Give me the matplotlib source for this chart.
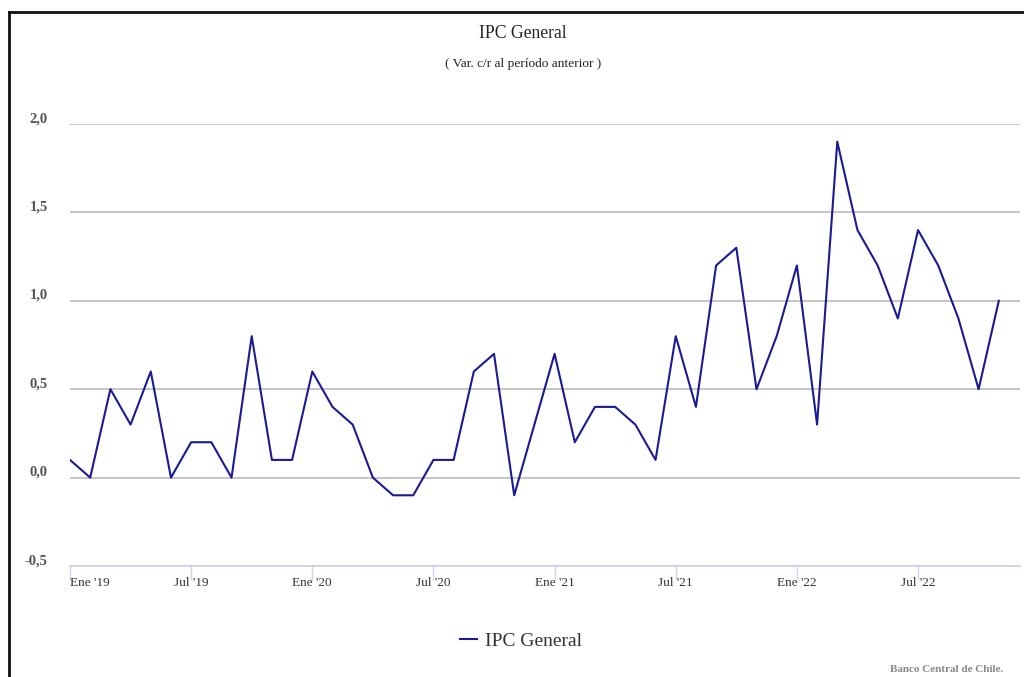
import matplotlib.pyplot as plt
import matplotlib.transforms as mtransforms
import numpy as np

# datos: IPC general, var. mensual (%), ene 2019 - nov 2022
ipc = [0.1, 0.0, 0.5, 0.3, 0.6, 0.0, 0.2, 0.2, 0.0, 0.8, 0.1, 0.1,
       0.6, 0.4, 0.3, 0.0, -0.1, -0.1, 0.1, 0.1, 0.6, 0.7, -0.1, 0.3,
       0.7, 0.2, 0.4, 0.4, 0.3, 0.1, 0.8, 0.4, 1.2, 1.3, 0.5, 0.8,
       1.2, 0.3, 1.9, 1.4, 1.2, 0.9, 1.4, 1.2, 0.9, 0.5, 1.0]
tick_months = [0, 6, 12, 18, 24, 30, 36, 42]
tick_labels = ["Ene '19", "Jul '19", "Ene '20", "Jul '20",
               "Ene '21", "Jul '21", "Ene '22", "Jul '22"]
y_ticks = [-0.5, 0.0, 0.5, 1.0, 1.5, 2.0]
y_labels = ["-0,5", "0,0", "0,5", "1,0", "1,5", "2,0"]

plt.rcParams['font.family'] = ['Liberation Serif', 'DejaVu Serif']

W, H = 1024, 677
fig = plt.figure(figsize=(W / 100, H / 100), dpi=100)
ax = fig.add_axes([70 / W, 1 - 566 / H, 950 / W, (566 - 124) / H])

x = np.arange(len(ipc))
ax.plot(x, ipc, color='#1a1a96', lw=1.5, label='IPC General', zorder=3)

ax.set_xlim(0, 47.05)
ax.set_ylim(-0.5, 2.0)

ax.set_yticks(y_ticks)
ax.set_yticklabels(y_labels, fontsize=10.5, color='#555555', fontweight='bold')
ax.tick_params(axis='y', length=0, pad=16)
for lab in ax.get_yticklabels():
    lab.set_transform(lab.get_transform() +
                      mtransforms.ScaledTranslation(0, 5 / 72, fig.dpi_scale_trans))
ax.yaxis.grid(True, color='#c0c0c0', lw=1.3)
ax.set_axisbelow(True)

ax.set_xticks(tick_months)
ax.set_xticklabels(tick_labels, fontsize=9.5, color='#333333')
ax.tick_params(axis='x', length=10, width=1, color='#ccd6eb', pad=-2)
ax.get_xticklabels()[0].set_horizontalalignment('left')

for s in ['top', 'right', 'left']:
    ax.spines[s].set_visible(False)
ax.spines['bottom'].set_color('#ccd6eb')
ax.spines['bottom'].set_linewidth(1.3)

fig.text(523 / W, 1 - 33 / H, 'IPC General', ha='center', va='center',
         fontsize=12.7, color='#222222')
fig.text(523 / W, 1 - 64 / H, '( Var. c/r al período anterior )', ha='center',
         va='center', fontsize=9.6, color='#222222')

leg = fig.legend(loc='center', bbox_to_anchor=(521 / W, 1 - 641 / H),
                 frameon=False, fontsize=14, handlelength=0.9,
                 handletextpad=0.4)
for t in leg.get_texts():
    t.set_color('#333333')

fig.text(1003 / W, 1 - 669 / H, 'Banco Central de Chile.', ha='right',
         va='center', fontsize=8, color='#888888', fontweight='bold')

# marco negro (izquierda y arriba)
fig.add_artist(plt.Line2D([9 / W, 9 / W], [0, 1 - 12 / H], color='#111111',
                          lw=2, transform=fig.transFigure))
fig.add_artist(plt.Line2D([9 / W, 1], [1 - 12 / H, 1 - 12 / H], color='#111111',
                          lw=2, transform=fig.transFigure))

fig.savefig('out.png', dpi=100)
